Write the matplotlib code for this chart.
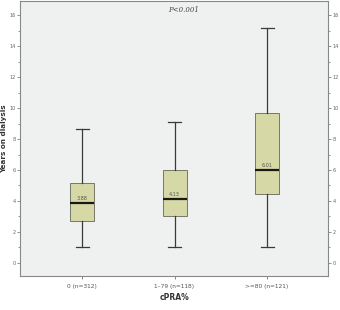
import matplotlib
matplotlib.use("Agg")
import matplotlib.pyplot as plt
from matplotlib.ticker import MultipleLocator

categories = ["0 (n=312)", "1\u201379 (n=118)", ">=80 (n=121)"]
whislo = [1.0, 1.0, 1.0]
q1 = [2.7, 3.05, 4.42]
medians = [3.88, 4.13, 6.01]
q3 = [5.13, 6.0, 9.66]
whishi = [8.65, 9.1, 15.15]
median_labels = ["3.88", "4.13", "6.01"]

fig = plt.figure(figsize=(3.4, 3.1), dpi=100)
fig.patch.set_facecolor("white")
ax = fig.add_axes([0.059, 0.110, 0.906, 0.886])
ax.set_facecolor("#eff0f0")

stats = []
for i in range(len(categories)):
    stats.append(dict(whislo=whislo[i], q1=q1[i], med=medians[i], q3=q3[i],
                      whishi=whishi[i], fliers=[], label=categories[i]))

ax.bxp(stats, positions=range(len(categories)), widths=0.26, patch_artist=True,
       showfliers=False,
       boxprops=dict(facecolor="#d6d8a6", edgecolor="#77776a", linewidth=0.7),
       medianprops=dict(color="#1a1a14", linewidth=1.6),
       whiskerprops=dict(color="#3a3a3a", linewidth=0.9),
       capprops=dict(color="#3a3a3a", linewidth=0.9),
       capwidths=0.14)

for i, lab in enumerate(median_labels):
    ax.text(i, medians[i] + 0.12, lab, ha="center", va="bottom", fontsize=3.5,
            color="#555555")

ax.set_xlim(-0.67, 2.66)
ax.set_ylim(-0.84, 16.9)
ax.yaxis.set_major_locator(MultipleLocator(2))
ax.yaxis.set_minor_locator(MultipleLocator(1))
ax.tick_params(axis="y", which="both", left=True, right=True, labelleft=True,
               labelright=True, labelsize=3.6, colors="#666666", length=2.5,
               width=0.5, pad=0.8)
ax.tick_params(axis="y", which="minor", length=1.5)
ax.tick_params(axis="x", labelsize=4.2, colors="#555555", length=2.5, width=0.5)
for s in ax.spines.values():
    s.set_color("#888888")
    s.set_linewidth(0.8)

ax.set_ylabel("Years on dialysis", fontsize=5.2, fontweight="bold", color="#333333")
ax.yaxis.set_label_coords(-0.042, 0.5)
ax.set_xlabel("cPRA%", fontsize=5.5, fontweight="bold", labelpad=3, color="#333333")
ax.text(0.53, 0.967, "P<0.001", transform=ax.transAxes, ha="center", va="center",
        fontsize=5, style="italic", family="DejaVu Serif", color="#444444")

fig.savefig("out.png", dpi=100)
